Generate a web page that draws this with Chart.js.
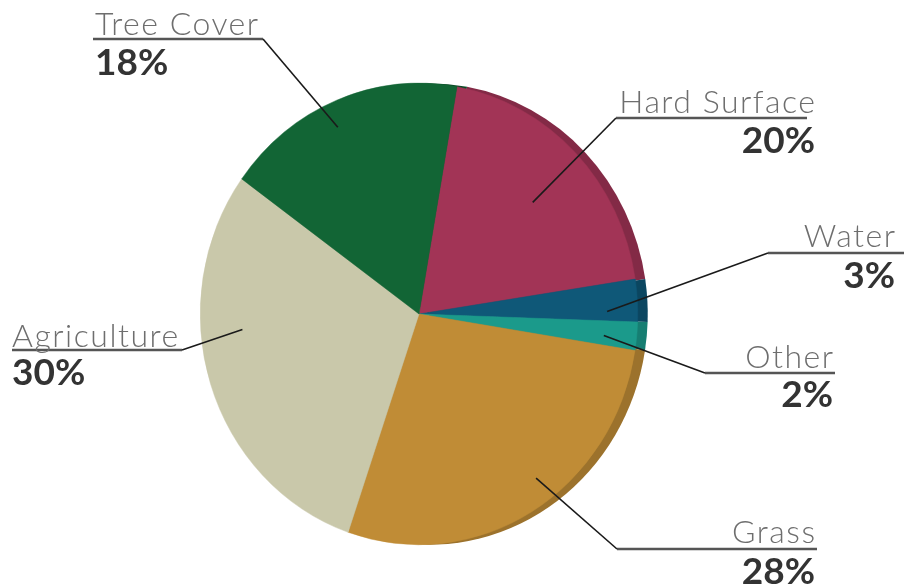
<!DOCTYPE html>
<html>
<head>
<meta charset="utf-8">
<script src="https://cdn.jsdelivr.net/npm/chart.js@4.4.0/dist/chart.umd.min.js"></script>
<style>
  html, body { margin: 0; padding: 0; background: #fff; }
  canvas { display: block; }
</style>
</head>
<body>
<canvas id="myChart" width="904" height="588"></canvas>
<script>
// land cover shares, clockwise from the top
const categories = ['Hard Surface', 'Water', 'Other', 'Grass', 'Agriculture', 'Tree Cover'];
const shares = [20, 3, 2, 28, 30, 18];

const faceColors = ['#a23456', '#0f5878', '#1b9a8b', '#c08c36', '#c9c8aa', '#126535'];
const rimColors = ['#832a46', '#0b4660', '#167e72', '#9c722c', '#a9a88c', '#0d4a27'];

// where each label sits (text anchor, underline, point inside slice)
const labelLayout = [
    { align: 'right', tx: 815, nameY: 113, pctY: 153, lineY: 118, x0: 616, x1: 807, elbow: 616, t: 0.52, rf: 0.71 },
    { align: 'right', tx: 895, nameY: 247, pctY: 288, lineY: 253, x0: 768, x1: 904, elbow: 768, t: 0.75, rf: 0.86 },
    { align: 'right', tx: 833, nameY: 368, pctY: 407, lineY: 373, x0: 705, x1: 835, elbow: 705, t: 0.6, rf: 0.85 },
    { align: 'right', tx: 815, nameY: 543, pctY: 584, lineY: 549, x0: 617, x1: 817, elbow: 617, t: 0.44, rf: 0.89 },
    { align: 'left', tx: 12, nameY: 347, pctY: 385, lineY: 350, x0: 12, x1: 182, elbow: 182, t: 0.62, rf: 0.81 },
    { align: 'left', tx: 95, nameY: 35, pctY: 75, lineY: 39, x0: 93, x1: 263, elbow: 263, t: 0.46, rf: 0.89 }
];

const squeezeX = 0.948; // pie is seen slightly from the side
const rimOffset = 10;

// squeeze the pie and paint the darker side edge behind it
const tiltPlugin = {
    id: 'tilt',
    beforeDatasetsDraw(chart) {
        const ctx = chart.ctx;
        const arcs = chart.getDatasetMeta(0).data;
        const cx = arcs[0].x, cy = arcs[0].y;
        ctx.save();
        ctx.translate(cx, cy);
        ctx.scale(squeezeX, 1);
        ctx.translate(-cx, -cy);
        const off = rimOffset / squeezeX;
        arcs.forEach((arc, i) => {
            ctx.beginPath();
            ctx.moveTo(cx + off, cy);
            ctx.arc(cx + off, cy, arc.outerRadius, arc.startAngle, arc.endAngle);
            ctx.closePath();
            ctx.fillStyle = rimColors[i];
            ctx.fill();
        });
    },
    afterDatasetsDraw(chart) {
        chart.ctx.restore();
    }
};

// callout labels with leader lines
const calloutPlugin = {
    id: 'callouts',
    afterDraw(chart) {
        const ctx = chart.ctx;
        const arcs = chart.getDatasetMeta(0).data;
        arcs.forEach((arc, i) => {
            const L = labelLayout[i];
            const a = arc.startAngle + L.t * (arc.endAngle - arc.startAngle);
            const px = arc.x + Math.cos(a) * arc.outerRadius * L.rf * squeezeX;
            const py = arc.y + Math.sin(a) * arc.outerRadius * L.rf;

            ctx.save();
            // underline
            ctx.strokeStyle = '#555555';
            ctx.lineWidth = 2.5;
            ctx.beginPath();
            ctx.moveTo(L.x0, L.lineY);
            ctx.lineTo(L.x1, L.lineY);
            ctx.stroke();
            // leader
            ctx.strokeStyle = '#1a1a1a';
            ctx.lineWidth = 1.6;
            ctx.beginPath();
            ctx.moveTo(L.elbow, L.lineY);
            ctx.lineTo(px, py);
            ctx.stroke();

            ctx.textAlign = L.align;
            ctx.textBaseline = 'alphabetic';
            ctx.fillStyle = '#6e6e6e';
            ctx.font = '300 32px Lato, "Open Sans", sans-serif';
            ctx.letterSpacing = '1.5px';
            // right aligned text gets trailing spacing, shift it back
            const nx = L.align === 'right' ? L.tx + 1.5 : L.tx;
            ctx.fillText(categories[i], nx, L.nameY);
            ctx.letterSpacing = '0px';
            ctx.fillStyle = '#333333';
            ctx.font = 'bold 37px Lato, "Open Sans", sans-serif';
            ctx.fillText(shares[i] + '%', L.tx, L.pctY);
            ctx.restore();
        });
    }
};

const ctx = document.getElementById('myChart').getContext('2d');
new Chart(ctx, {
    type: 'pie',
    data: {
        labels: categories,
        datasets: [{
            data: shares,
            backgroundColor: faceColors,
            borderColor: faceColors,
            borderWidth: 0.5
        }]
    },
    options: {
        responsive: false,
        animation: false,
        rotation: 10,
        layout: {
            padding: { left: 188, right: 254, top: 83, bottom: 43 }
        },
        plugins: {
            legend: { display: false },
            tooltip: { enabled: false }
        }
    },
    plugins: [tiltPlugin, calloutPlugin]
});
</script>
</body>
</html>
